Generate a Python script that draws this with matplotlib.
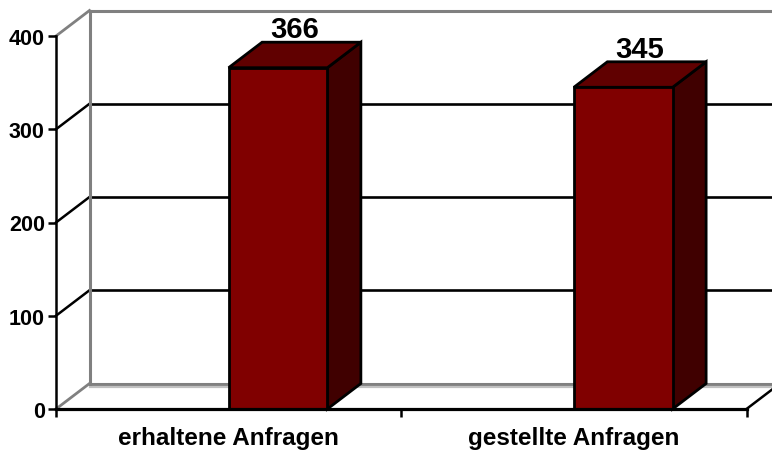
import matplotlib
matplotlib.use('Agg')
import matplotlib.pyplot as plt
from matplotlib.patches import Polygon

categories = ['erhaltene Anfragen', 'gestellte Anfragen']
values = [366, 345]
yticks = [0, 100, 200, 300, 400]

plt.rcParams['font.family'] = ['Liberation Sans', 'DejaVu Sans']
plt.rcParams['font.weight'] = 'bold'

W, H = 772, 452
fig = plt.figure(figsize=(W / 100, H / 100), dpi=100)
ax = fig.add_axes([56 / W, 1 - 410 / H, 690.5 / W, 373 / H])
ax.set_xlim(0, 2)
ax.set_ylim(0, 400)

# depth of the fake 3d box, in data units
dx = 33.5 / 690.5 * 2
dy = 25.5 / 373 * 400
gray = '#808080'

# back wall and side wall
for v in yticks:
    c = gray if v in (0, 400) else 'black'
    ax.plot([dx, 2 + dx], [v + dy, v + dy], color=c, lw=2.2 if c == gray else 1.9,
            clip_on=False, zorder=1, solid_capstyle='butt')
    ax.plot([0, dx], [v, v + dy], color=c, lw=2 if c == gray else 1.8,
            clip_on=False, zorder=1)
ax.plot([dx, 2 + dx], [dy - 3.5, dy - 3.5], color='#c0c0c0', lw=1.6, clip_on=False, zorder=1)
ax.plot([dx, dx], [dy, 400 + dy], color=gray, lw=2.2, clip_on=False, zorder=1)
ax.plot([2, 2 + dx], [0, dy], color='black', lw=1.8, clip_on=False, zorder=1)

# bars
for i, v in enumerate(values):
    x0 = i + 0.5
    x1 = x0 + 0.286
    front = [(x0, 0), (x1, 0), (x1, v), (x0, v)]
    top = [(x0, v), (x1, v), (x1 + dx, v + dy), (x0 + dx, v + dy)]
    side = [(x1, 0), (x1 + dx, dy), (x1 + dx, v + dy), (x1, v)]
    for pts, col in ((side, '#400000'), (top, '#600000'), (front, '#800000')):
        ax.add_patch(Polygon(pts, closed=True, facecolor=col, edgecolor='black',
                             lw=2, joinstyle='miter', clip_on=False, zorder=3))
    ax.text((x0 + x1) / 2 + dx / 2, v + dy - 1, str(v), ha='center', va='bottom',
            fontsize=21, fontweight='bold', zorder=4)

for s in ('top', 'right'):
    ax.spines[s].set_visible(False)
ax.spines['left'].set_linewidth(1.8)
ax.spines['bottom'].set_linewidth(2.3)
ax.spines['bottom'].set_zorder(5)
ax.patch.set_alpha(0)

ax.set_yticks(yticks)
ax.set_yticklabels([str(v) for v in yticks], fontsize=15.5, fontweight='bold')
ax.tick_params(axis='y', length=6, width=1.8, pad=2)
ax.set_xticks([0, 1, 2])
ax.set_xticklabels([])
ax.tick_params(axis='x', length=6, width=1.8)
ax.set_xticks([0.5, 1.5], minor=True)
ax.set_xticklabels(categories, minor=True, fontsize=17.5, fontweight='bold')
ax.tick_params(axis='x', which='minor', length=0, pad=12)

fig.savefig('out.png', dpi=100)
